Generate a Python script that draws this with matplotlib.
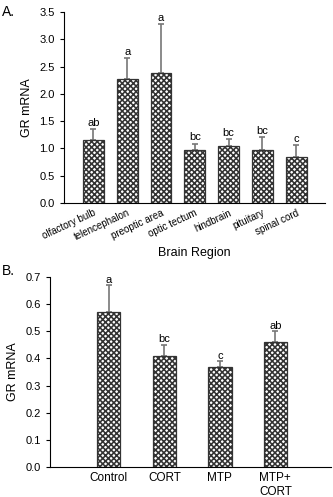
import numpy as np
import matplotlib
matplotlib.use("Agg")
import matplotlib.pyplot as plt

# Panel A: GR mRNA by brain region
regions = ["olfactory bulb", "telencephalon", "preoptic area", "optic tectum",
           "hindbrain", "pituitary", "spinal cord"]
region_mean = [1.15, 2.27, 2.39, 0.98, 1.04, 0.98, 0.84]
region_err = [0.21, 0.39, 0.88, 0.11, 0.13, 0.23, 0.22]
region_letters = ["ab", "a", "a", "bc", "bc", "bc", "c"]

# Panel B: GR mRNA by treatment
treatments = ["Control", "CORT", "MTP", "MTP+\nCORT"]
treat_mean = [0.57, 0.41, 0.37, 0.46]
treat_err = [0.10, 0.04, 0.02, 0.04]
treat_letters = ["a", "bc", "c", "ab"]

plt.rcParams["font.family"] = ["Liberation Sans", "DejaVu Sans"]
plt.rcParams["hatch.linewidth"] = 1.15
plt.rcParams["hatch.color"] = "#1a1a1a"


def draw_bars(ax, means, errs, letters, width, letter_pad):
    x = np.arange(len(means))
    ax.bar(x, means, width=width, color="white", edgecolor="#333333",
           linewidth=0.9, hatch="xxxxxx", zorder=2)
    ax.errorbar(x, means, yerr=[np.zeros(len(errs)), errs], fmt="none",
                ecolor="#777777", elinewidth=1.2, capsize=2.2, capthick=1.2,
                zorder=1)
    for xi, m, e, lab in zip(x, means, errs, letters):
        ax.text(xi, m + e + letter_pad, lab, ha="center", va="bottom",
                fontsize=8)
    ax.spines["top"].set_visible(False)
    ax.spines["right"].set_visible(False)
    ax.tick_params(axis="y", labelsize=8, length=3, width=0.8)
    ax.tick_params(axis="x", length=0)
    return x


fig = plt.figure(figsize=(3.33, 4.97), dpi=100)

ax_a = fig.add_axes([0.192, 0.5915, 0.784, 0.3845])
xa = draw_bars(ax_a, region_mean, region_err, region_letters, 0.62, 0.02)
ax_a.set_xlim(-0.87, 6.85)
ax_a.set_ylim(0, 3.5)
ax_a.set_yticks(np.arange(0, 3.51, 0.5))
ax_a.set_yticklabels([f"{v:.1f}" for v in np.arange(0, 3.51, 0.5)])
ax_a.set_xticks(xa)
ax_a.set_xticklabels(regions, rotation=25, ha="right", fontsize=7,
                     rotation_mode="anchor")
ax_a.set_ylabel("GR mRNA", fontsize=9, labelpad=5)
ax_a.set_xlabel("Brain Region", fontsize=9, labelpad=3)
fig.text(0.005, 0.99, "A.", fontsize=10, va="top", ha="left")

ax_b = fig.add_axes([0.150, 0.0604, 0.844, 0.3823])
xb = draw_bars(ax_b, treat_mean, treat_err, treat_letters, 0.42, 0.002)
ax_b.set_xlim(-1.06, 4.0)
ax_b.set_ylim(0, 0.7)
ax_b.set_yticks(np.arange(0, 0.71, 0.1))
ax_b.set_yticklabels([f"{v:.1f}" for v in np.arange(0, 0.71, 0.1)])
ax_b.set_xticks(xb)
ax_b.set_xticklabels(treatments, fontsize=8.5, ha="center")
ax_b.get_xticklabels()[-1].set_multialignment("left")
ax_b.set_ylabel("GR mRNA", fontsize=9, labelpad=5)
fig.text(0.005, 0.468, "B.", fontsize=10, va="top", ha="left")

fig.savefig("out.png", dpi=100)
